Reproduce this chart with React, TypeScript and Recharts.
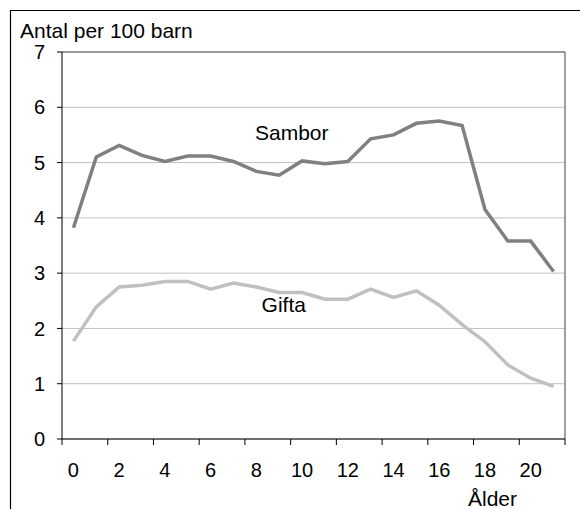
import React from 'react';
import { LineChart, Line, XAxis, YAxis, CartesianGrid, ReferenceLine, ReferenceDot } from 'recharts';

const ages = [0, 1, 2, 3, 4, 5, 6, 7, 8, 9, 10, 11, 12, 13, 14, 15, 16, 17, 18, 19, 20, 21];
const sambor = [3.82, 5.1, 5.31, 5.13, 5.02, 5.12, 5.12, 5.02, 4.84, 4.77, 5.03, 4.98, 5.02, 5.43, 5.5, 5.71, 5.75, 5.67, 4.15, 3.58, 3.58, 3.03];
const gifta = [1.77, 2.39, 2.75, 2.78, 2.85, 2.85, 2.71, 2.82, 2.75, 2.65, 2.65, 2.53, 2.53, 2.71, 2.56, 2.68, 2.42, 2.07, 1.76, 1.34, 1.1, 0.95];
const yTicks = [0, 1, 2, 3, 4, 5, 6, 7];
// tick marks sit on category boundaries, every second one
const xTicks = [-0.5, 1.5, 3.5, 5.5, 7.5, 9.5, 11.5, 13.5, 15.5, 17.5, 19.5, 21.5];

const data = ages.map((a, i) => ({ age: a, sambor: sambor[i], gifta: gifta[i] }));

const W = 580;
const H = 509;
const margin = { top: 52, right: 15, left: 0, bottom: 0 };
const Y_W = 62;
const X_H = 70;
const plotW = W - Y_W - margin.right;
const halfBand = plotW / ages.length / 2;

const font = '"Liberation Sans", Arial, sans-serif';

const XTick = (props: any) => {
  const { x, y, payload } = props;
  if (payload.value > ages[ages.length - 1]) return null;
  return (
    <text x={x + halfBand} y={y} dy="0.71em" textAnchor="middle" fontSize={20} fontFamily={font} fill="#000">
      {payload.value + 0.5}
    </text>
  );
};

export default function App() {
  return (
    <div style={{ position: 'relative', width: W, height: H, background: '#fff' }}>
      <style>{'body{margin:0}'}</style>
      <LineChart width={W} height={H} data={data} margin={margin}>
        <CartesianGrid vertical={false} stroke="#c0c0c0" />
        <XAxis
          dataKey="age"
          type="number"
          domain={[-0.5, 21.5]}
          ticks={xTicks}
          interval={0}
          height={X_H}
          tickSize={6}
          tickMargin={18}
          stroke="#000"
          tick={<XTick />}
        />
        <YAxis
          domain={[0, 7]}
          ticks={yTicks}
          interval={0}
          width={Y_W}
          tickSize={5}
          tickMargin={12}
          stroke="#000"
          tick={{ fontSize: 20, fontFamily: font, fill: '#000' }}
        />
        <ReferenceLine y={7} stroke="#808080" strokeWidth={1.5} />
        <ReferenceLine x={21.5} stroke="#808080" strokeWidth={1.5} />
        <Line type="linear" dataKey="gifta" stroke="#c0c0c0" strokeWidth={3.5} dot={false} isAnimationActive={false} />
        <Line type="linear" dataKey="sambor" stroke="#808080" strokeWidth={3.5} dot={false} isAnimationActive={false} />
        <ReferenceDot x={9.55} y={5.55} r={0} ifOverflow="visible"
          label={{ value: 'Sambor', position: 'center', fontSize: 21, fontFamily: font, fill: '#000' }} />
        <ReferenceDot x={9.2} y={2.44} r={0} ifOverflow="visible"
          label={{ value: 'Gifta', position: 'center', fontSize: 21, fontFamily: font, fill: '#000' }} />
      </LineChart>
      <svg width={W} height={H} style={{ position: 'absolute', left: 0, top: 0, pointerEvents: 'none' }}>
        <line x1={10} y1={10.5} x2={W} y2={10.5} stroke="#000" strokeWidth={1.2} />
        <line x1={10.5} y1={10} x2={10.5} y2={H} stroke="#000" strokeWidth={1.2} />
        <text x={20} y={38} fontSize={21} fontFamily={font} fill="#000">Antal per 100 barn</text>
        <text x={468} y={506} fontSize={21} fontFamily={font} fill="#000">Ålder</text>
      </svg>
    </div>
  );
}
